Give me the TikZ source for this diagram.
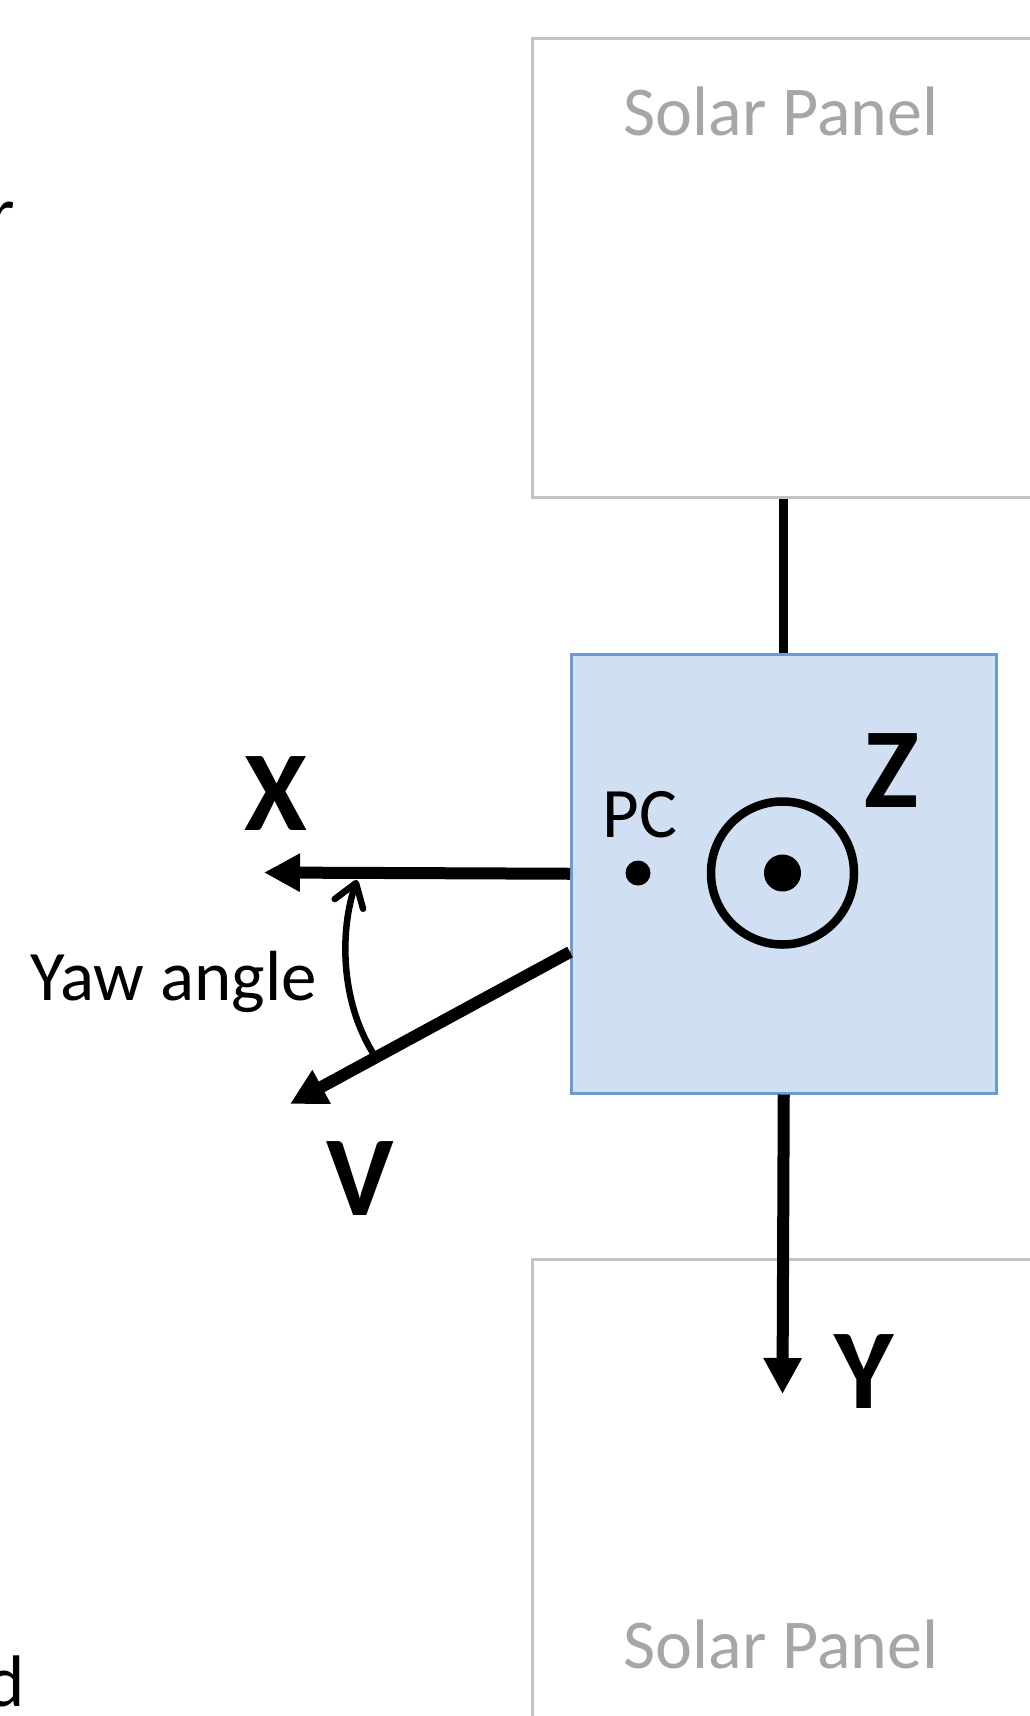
\documentclass[tikz,border=0pt]{standalone}
\usepackage{fontspec}
\setmainfont{Carlito}
\usetikzlibrary{arrows.meta}
\definecolor{boxfill}{RGB}{208,224,242}
\definecolor{boxline}{RGB}{108,154,210}
\definecolor{panelline}{RGB}{196,196,196}
\definecolor{paneltext}{RGB}{166,166,166}
\begin{document}
\begin{tikzpicture}[x=1pt,y=-1pt,
  panel/.style={draw=panelline, line width=2.5pt, fill=white, inner sep=0, anchor=north west},
  paneltxt/.style={text=paneltext, anchor=base, font=\fontsize{70}{80}\selectfont, inner sep=0},
  bodytxt/.style={anchor=base, font=\fontsize{71}{80}\selectfont, inner sep=0},
  axislbl/.style={anchor=base, font=\fontsize{114}{120}\selectfont\bfseries, inner sep=0},
  axis/.style={line width=12pt, -{Triangle[length=36pt,width=36pt]}},
  link/.style={line width=9pt}]
\useasboundingbox (0,0) rectangle (1030,1716);
\clip (0,0) rectangle (1030,1716);
\fill[white] (0,0) rectangle (1030,1716);
% cut-off texts at the left edge
\node[bodytxt, anchor=base east] (tr) at (15,237) {\fontsize{73}{80}\selectfont r};
\node[bodytxt, anchor=base east] (bd) at (25,1706) {\fontsize{73}{80}\selectfont d};
% solar panels
\node[panel, minimum width=520pt, minimum height=459pt] (top) at (531,37) {};
\node[paneltxt] (toptxt) at (781,135) {Solar Panel};
\node[panel, minimum width=520pt, minimum height=480pt] (bot) at (531,1258) {};
\node[paneltxt] (bottxt) at (781,1668) {Solar Panel};
% body
\node[draw=boxline, fill=boxfill, line width=2.5pt, inner sep=0, minimum width=425pt, minimum height=439pt, anchor=north west] (body) at (570,653) {};
\draw[link] (body.north |- top.south) -- (body.north);
% PC
\node[bodytxt] (pctxt) at (640,837) {PC};
\node[circle, fill=black, minimum size=25pt, inner sep=0] (pc) at (638,873) {};
% Z axis symbol
\node[circle, draw=black, line width=8.5pt, minimum size=143pt, inner sep=0] (zc) at (782.5,873) {};
\node[circle, fill=black, minimum size=37pt, inner sep=0] (zdot) at (782.5,873) {};
\node[axislbl] (zl) at (892,807) {Z};
% X axis
\coordinate (xtip) at (264,872.5);
\draw[axis] (body.west) -- (xtip);
\node[axislbl] (xl) at (276,830) {X};
% Y axis
\coordinate (ytip) at (782.5,1394);
\draw[axis] (body.south) -- (ytip);
\node[axislbl] (yl) at (864,1408) {Y};
% V
\coordinate (vstart) at (570,952);
\coordinate (vtip) at (290,1104);
\draw[axis] (vstart) -- (vtip);
\node[axislbl] (vl) at (360,1215) {V};
% yaw angle
\coordinate (ya) at (373,1053);
\coordinate (yb) at (357,880);
\draw[line width=6.5pt, -{Straight Barb[length=22pt,width=30pt,round]}] (ya) .. controls (340,1000) and (340,930) .. (yb);
\node[bodytxt] (yaw) at (173.5,1000) {Yaw angle};
\end{tikzpicture}
\end{document}
